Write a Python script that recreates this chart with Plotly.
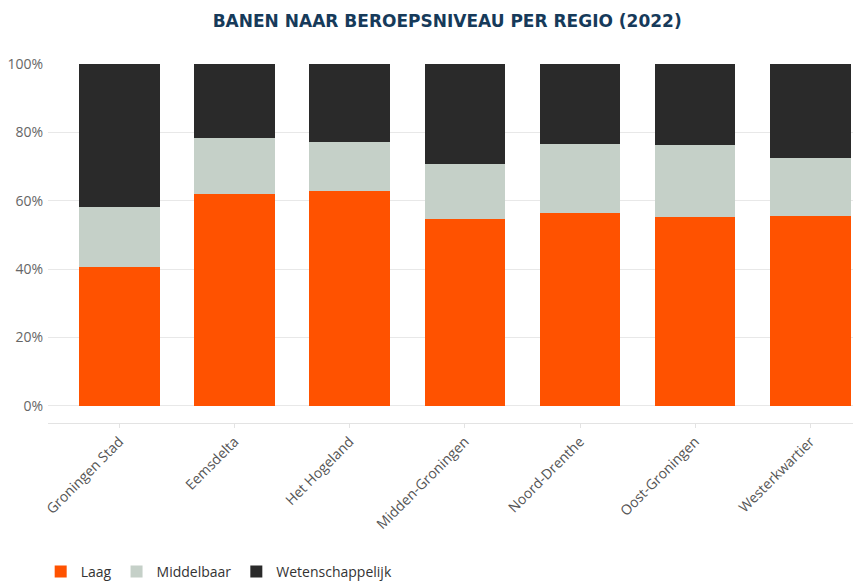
import plotly.graph_objects as go

regions = ["Groningen Stad", "Eemsdelta", "Het Hogeland", "Midden-Groningen",
           "Noord-Drenthe", "Oost-Groningen", "Westerkwartier"]
laag = [40.7, 62.0, 63.0, 54.6, 56.5, 55.2, 55.6]
middelbaar = [17.4, 16.3, 14.3, 16.2, 20.0, 21.2, 17.0]
wetenschappelijk = [41.9, 21.7, 22.7, 29.2, 23.5, 23.6, 27.4]
y_ticks = [0, 20, 40, 60, 80, 100]
y_tick_labels = ["0%", "20%", "40%", "60%", "80%", "100%"]

series = [("Laag", laag, "#ff5200"),
          ("Middelbaar", middelbaar, "#c5d0c8"),
          ("Wetenschappelijk", wetenschappelijk, "#2a2a2a")]

fig = go.Figure()
for name, vals, col in series:
    fig.add_trace(go.Bar(x=regions, y=vals, name=name, marker_color=col,
                         marker_line_width=0))

# page body has an 8px margin; figure sized to fill the remaining window
fig.update_layout(
    barmode="stack",
    bargap=0.3,
    width=853, height=573,
    margin=dict(l=40, r=0, t=56, b=158, autoexpand=False),
    paper_bgcolor="white", plot_bgcolor="white",
    font=dict(family="Open Sans", size=13, color="#555"),
    title=dict(text="<b>BANEN NAAR BEROEPSNIVEAU PER REGIO (2022)</b>",
               x=0.491, xref="paper", xanchor="center", y=0.978, yanchor="middle",
               font=dict(family="DejaVu Sans", size=17, color="#163a5a")),
    legend=dict(orientation="h", x=-0.009, xanchor="left", y=-0.415, yanchor="middle",
                font=dict(size=14, color="#333"), traceorder="normal"),
    showlegend=True,
)
fig.update_xaxes(range=[-0.62, 6.44], tickangle=-45, showline=True, linecolor="#e3e3e3",
                 ticks="outside", ticklen=4, tickcolor="#e3e3e3", automargin=False,
                 tickfont=dict(size=14, color="#555"), showgrid=False)
fig.update_yaxes(range=[-5, 100], tickvals=y_ticks, ticktext=y_tick_labels,
                 showgrid=True, gridcolor="#e8e8e8", zeroline=False, automargin=False,
                 ticklabelstandoff=4,
                 tickfont=dict(size=14, color="#666"))

fig.write_html("out.html")
